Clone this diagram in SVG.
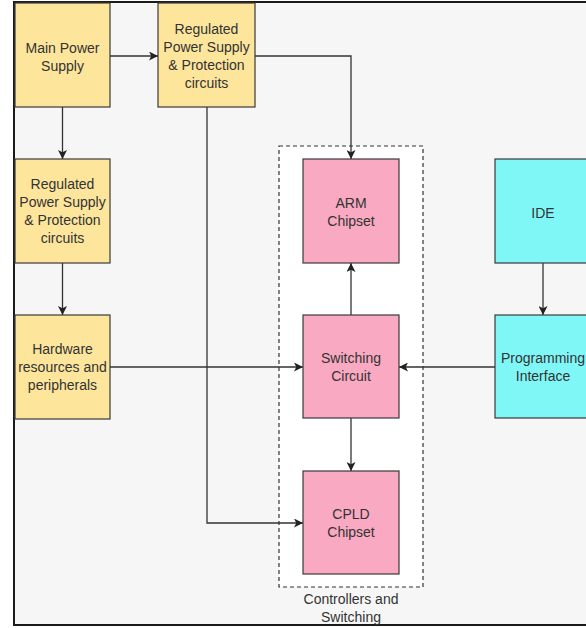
<svg xmlns="http://www.w3.org/2000/svg" width="586" height="628" viewBox="0 0 586 628">
<defs>
<style>
.frame{fill:#f6f6f6;stroke:#1a1a1a;stroke-width:2}
.y{fill:#fde59c;stroke:#3a3a3a;stroke-width:1.2}
.p{fill:#f9a9c1;stroke:#3a3a3a;stroke-width:1.2}
.c{fill:#80f7f7;stroke:#3a3a3a;stroke-width:1.2}
.grp{fill:#ffffff;stroke:#333;stroke-width:1.2;stroke-dasharray:4 3}
text{font-family:"Liberation Sans",Arial,sans-serif;font-size:14px;fill:#333;text-anchor:middle}
.e{fill:none;stroke:#333;stroke-width:1.3;marker-end:url(#a)}
</style>
<marker id="a" viewBox="0 0 10 10" refX="10" refY="5" markerWidth="9" markerHeight="9" markerUnits="userSpaceOnUse" orient="auto">
<path d="M0,0 L10,5 L0,10 L2.5,5 Z" fill="#222"/>
</marker>
</defs>
<rect x="0" y="0" width="586" height="628" fill="#ffffff"/>
<rect class="frame" x="14" y="2" width="600" height="623"/>
<g id="group-controllers">
<rect class="grp" x="279" y="146" width="144" height="441"/>
<text x="351" y="604">Controllers and</text>
<text x="351" y="622">Switching</text>
</g>
<g id="connectors">
<path class="e" d="M110,56 H158"/>
<path class="e" d="M255,56 H351 V159"/>
<path class="e" d="M62.5,107 V159"/>
<path class="e" d="M62.5,263 V315"/>
<path class="e" d="M110,367 H303"/>
<path class="e" d="M207,107 V523 H303"/>
<path class="e" d="M351,315 V263"/>
<path class="e" d="M351,418 V471"/>
<path class="e" d="M543,263 V315"/>
<path class="e" d="M495,367 H399"/>
</g>
<g id="main-power">
<rect class="y" x="15" y="3" width="95" height="104"/>
<text x="62.5" y="53">Main Power</text>
<text x="62.5" y="71">Supply</text>
</g>
<g id="regulated-top">
<rect class="y" x="158" y="3" width="97" height="104"/>
<text x="206.5" y="34">Regulated</text>
<text x="206.5" y="52">Power Supply</text>
<text x="206.5" y="70">&amp; Protection</text>
<text x="206.5" y="88">circuits</text>
</g>
<g id="regulated-left">
<rect class="y" x="15" y="159" width="95" height="104"/>
<text x="62.5" y="189">Regulated</text>
<text x="62.5" y="207">Power Supply</text>
<text x="62.5" y="225">&amp; Protection</text>
<text x="62.5" y="243">circuits</text>
</g>
<g id="hardware">
<rect class="y" x="15" y="315" width="95" height="104"/>
<text x="62.5" y="354">Hardware</text>
<text x="62.5" y="372">resources and</text>
<text x="62.5" y="390">peripherals</text>
</g>
<g id="arm">
<rect class="p" x="303" y="159" width="96" height="104"/>
<text x="351" y="208">ARM</text>
<text x="351" y="226">Chipset</text>
</g>
<g id="switching">
<rect class="p" x="303" y="315" width="96" height="103"/>
<text x="351" y="363">Switching</text>
<text x="351" y="381">Circuit</text>
</g>
<g id="cpld">
<rect class="p" x="303" y="471" width="96" height="103"/>
<text x="351" y="519">CPLD</text>
<text x="351" y="537">Chipset</text>
</g>
<g id="ide">
<rect class="c" x="495" y="159" width="96" height="104"/>
<text x="543" y="218">IDE</text>
</g>
<g id="programming">
<rect class="c" x="495" y="315" width="96" height="103"/>
<text x="543" y="363">Programming</text>
<text x="543" y="381">Interface</text>
</g>
</svg>
